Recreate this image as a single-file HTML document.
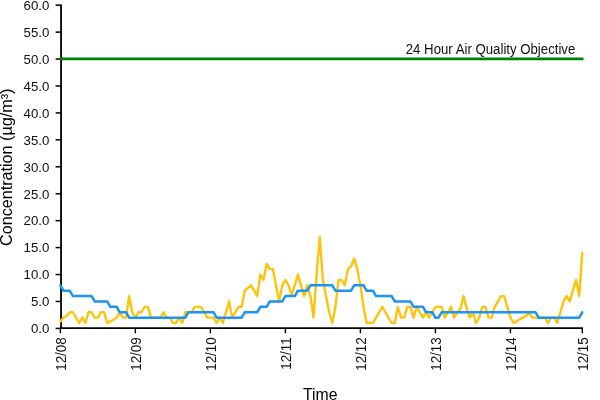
<!DOCTYPE html>
<html><head><meta charset="utf-8"><title>Chart</title>
<style>
html,body{margin:0;padding:0;background:#fff;}
svg{display:block}
text{font-family:"Liberation Sans",Arial,sans-serif;fill:#111}
.yl{font-size:13px}
.xl{font-size:13.2px}
</style></head><body>
<svg width="600" height="400" viewBox="0 0 600 400">
<rect width="600" height="400" fill="#fff"/>
<line x1="61.05" x2="61.05" y1="4.5" y2="329" stroke="#000" stroke-width="1.8"/>
<line x1="60.2" x2="583" y1="328.1" y2="328.1" stroke="#000" stroke-width="1.7"/>
<line x1="55.6" x2="61.1" y1="328.40" y2="328.40" stroke="#000" stroke-width="1.5"/><text transform="translate(49.4,333.20) scale(1.02,1.015)" text-anchor="end" class="yl">0.0</text><line x1="55.6" x2="61.1" y1="301.46" y2="301.46" stroke="#000" stroke-width="1.5"/><text transform="translate(49.4,306.26) scale(1.02,1.015)" text-anchor="end" class="yl">5.0</text><line x1="55.6" x2="61.1" y1="274.53" y2="274.53" stroke="#000" stroke-width="1.5"/><text transform="translate(49.4,279.33) scale(1.02,1.015)" text-anchor="end" class="yl">10.0</text><line x1="55.6" x2="61.1" y1="247.59" y2="247.59" stroke="#000" stroke-width="1.5"/><text transform="translate(49.4,252.39) scale(1.02,1.015)" text-anchor="end" class="yl">15.0</text><line x1="55.6" x2="61.1" y1="220.66" y2="220.66" stroke="#000" stroke-width="1.5"/><text transform="translate(49.4,225.46) scale(1.02,1.015)" text-anchor="end" class="yl">20.0</text><line x1="55.6" x2="61.1" y1="193.72" y2="193.72" stroke="#000" stroke-width="1.5"/><text transform="translate(49.4,198.53) scale(1.02,1.015)" text-anchor="end" class="yl">25.0</text><line x1="55.6" x2="61.1" y1="166.79" y2="166.79" stroke="#000" stroke-width="1.5"/><text transform="translate(49.4,171.59) scale(1.02,1.015)" text-anchor="end" class="yl">30.0</text><line x1="55.6" x2="61.1" y1="139.85" y2="139.85" stroke="#000" stroke-width="1.5"/><text transform="translate(49.4,144.66) scale(1.02,1.015)" text-anchor="end" class="yl">35.0</text><line x1="55.6" x2="61.1" y1="112.92" y2="112.92" stroke="#000" stroke-width="1.5"/><text transform="translate(49.4,117.72) scale(1.02,1.015)" text-anchor="end" class="yl">40.0</text><line x1="55.6" x2="61.1" y1="85.98" y2="85.98" stroke="#000" stroke-width="1.5"/><text transform="translate(49.4,90.78) scale(1.02,1.015)" text-anchor="end" class="yl">45.0</text><line x1="55.6" x2="61.1" y1="59.05" y2="59.05" stroke="#000" stroke-width="1.5"/><text transform="translate(49.4,63.85) scale(1.02,1.015)" text-anchor="end" class="yl">50.0</text><line x1="55.6" x2="61.1" y1="32.12" y2="32.12" stroke="#000" stroke-width="1.5"/><text transform="translate(49.4,36.92) scale(1.02,1.015)" text-anchor="end" class="yl">55.0</text><line x1="55.6" x2="61.1" y1="5.18" y2="5.18" stroke="#000" stroke-width="1.5"/><text transform="translate(49.4,9.98) scale(1.02,1.015)" text-anchor="end" class="yl">60.0</text>
<line x1="60.35" x2="60.35" y1="328" y2="333.3" stroke="#000" stroke-width="1.4"/><text transform="translate(65.65,337.3) scale(1.04,1.015) rotate(-90)" text-anchor="end" class="xl">12/08</text><line x1="135.36" x2="135.36" y1="328" y2="333.3" stroke="#000" stroke-width="1.4"/><text transform="translate(140.66,337.3) scale(1.04,1.015) rotate(-90)" text-anchor="end" class="xl">12/09</text><line x1="210.37" x2="210.37" y1="328" y2="333.3" stroke="#000" stroke-width="1.4"/><text transform="translate(215.67,337.3) scale(1.04,1.015) rotate(-90)" text-anchor="end" class="xl">12/10</text><line x1="285.39" x2="285.39" y1="328" y2="333.3" stroke="#000" stroke-width="1.4"/><text transform="translate(290.69,337.3) scale(1.04,1.015) rotate(-90)" text-anchor="end" class="xl">12/11</text><line x1="360.40" x2="360.40" y1="328" y2="333.3" stroke="#000" stroke-width="1.4"/><text transform="translate(365.70,337.3) scale(1.04,1.015) rotate(-90)" text-anchor="end" class="xl">12/12</text><line x1="435.41" x2="435.41" y1="328" y2="333.3" stroke="#000" stroke-width="1.4"/><text transform="translate(440.71,337.3) scale(1.04,1.015) rotate(-90)" text-anchor="end" class="xl">12/13</text><line x1="510.42" x2="510.42" y1="328" y2="333.3" stroke="#000" stroke-width="1.4"/><text transform="translate(515.72,337.3) scale(1.04,1.015) rotate(-90)" text-anchor="end" class="xl">12/14</text><line x1="582.31" x2="582.31" y1="328" y2="333.3" stroke="#000" stroke-width="1.4"/><text transform="translate(587.61,337.3) scale(1.04,1.015) rotate(-90)" text-anchor="end" class="xl">12/15</text>
<polyline points="60.35,321.40 63.48,317.63 66.60,316.01 69.73,312.24 72.85,312.24 75.98,317.63 79.10,323.01 82.23,317.63 85.35,323.01 88.48,312.24 91.61,312.24 94.73,317.63 97.86,317.63 100.98,312.24 104.11,312.24 107.23,323.01 110.36,321.40 113.48,319.78 116.61,317.63 119.73,312.24 122.86,317.63 125.99,317.63 129.11,296.08 132.24,312.24 135.36,317.63 138.49,312.24 141.61,312.24 144.74,306.85 147.86,306.85 150.99,317.63 154.12,317.63 157.24,317.63 160.37,317.63 163.49,312.24 166.62,317.63 169.74,317.63 172.87,323.01 175.99,323.01 179.12,317.63 182.24,323.01 185.37,312.24 188.50,312.24 191.62,312.24 194.75,306.85 197.87,306.85 201.00,306.85 204.12,312.24 207.25,317.63 210.37,317.63 213.50,317.63 216.62,323.01 219.75,317.63 222.88,323.01 226.00,312.24 229.13,301.46 232.25,317.63 235.38,312.24 238.50,306.85 241.63,306.85 244.75,290.69 247.88,288.00 251.01,285.30 254.13,290.69 257.26,296.08 260.38,274.53 263.51,279.92 266.63,263.76 269.76,269.14 272.88,269.14 276.01,285.30 279.14,301.46 282.26,285.30 285.39,279.92 288.51,285.30 291.64,295.00 294.76,285.30 297.89,274.53 301.01,285.30 304.14,296.08 307.26,285.30 310.39,296.08 313.52,317.63 316.64,274.53 319.77,236.82 322.89,279.92 326.02,296.08 329.14,312.24 332.27,323.01 335.39,306.85 338.52,279.92 341.65,279.92 344.77,285.30 347.90,269.14 351.02,266.45 354.15,258.37 357.27,269.14 360.40,285.30 363.52,306.85 366.65,323.01 369.77,323.01 372.90,323.01 376.03,317.63 379.15,312.24 382.28,306.85 385.40,312.24 388.53,317.63 391.65,323.01 394.78,323.01 397.90,306.85 401.03,317.63 404.16,317.63 407.28,306.85 410.41,306.85 413.53,317.63 416.66,306.85 419.78,312.24 422.91,317.63 426.03,312.24 429.16,317.63 432.28,312.24 435.41,306.85 438.54,306.85 441.66,306.85 444.79,317.63 447.91,312.24 451.04,306.85 454.16,317.63 457.29,312.24 460.41,309.01 463.54,296.08 466.67,308.47 469.79,317.63 472.92,312.24 476.04,323.01 479.17,317.63 482.29,306.85 485.42,306.85 488.54,317.63 491.67,317.63 494.79,306.85 497.92,301.46 501.05,296.08 504.17,296.08 507.30,306.85 510.42,317.63 513.55,323.01 516.67,321.40 519.80,319.24 522.92,317.63 526.05,316.01 529.18,312.24 532.30,317.63 535.43,317.63 538.55,317.63 541.68,317.63 544.80,317.63 547.93,323.01 551.05,317.63 554.18,317.63 557.30,323.01 560.43,312.24 563.56,301.46 566.68,296.08 569.81,301.46 572.93,290.69 576.06,279.92 579.18,296.08 582.31,252.98" fill="none" stroke="#FCC40C" stroke-width="2.4" stroke-linejoin="round" stroke-linecap="round"/>
<polyline points="60.35,285.30 63.48,290.69 66.60,290.69 69.73,290.69 72.85,296.08 75.98,296.08 79.10,296.08 82.23,296.08 85.35,296.08 88.48,296.08 91.61,296.08 94.73,301.46 97.86,301.46 100.98,301.46 104.11,301.46 107.23,301.46 110.36,306.85 113.48,306.85 116.61,306.85 119.73,312.24 122.86,312.24 125.99,312.24 129.11,317.63 132.24,317.63 135.36,317.63 138.49,317.63 141.61,317.63 144.74,317.63 147.86,317.63 150.99,317.63 154.12,317.63 157.24,317.63 160.37,317.63 163.49,317.63 166.62,317.63 169.74,317.63 172.87,317.63 175.99,317.63 179.12,317.63 182.24,317.63 185.37,317.63 188.50,312.24 191.62,312.24 194.75,312.24 197.87,312.24 201.00,312.24 204.12,312.24 207.25,312.24 210.37,312.24 213.50,312.24 216.62,317.63 219.75,317.63 222.88,317.63 226.00,317.63 229.13,317.63 232.25,317.63 235.38,317.63 238.50,317.63 241.63,317.63 244.75,312.24 247.88,312.24 251.01,312.24 254.13,312.24 257.26,312.24 260.38,306.85 263.51,306.85 266.63,306.85 269.76,301.46 272.88,301.46 276.01,301.46 279.14,301.46 282.26,301.46 285.39,296.08 288.51,296.08 291.64,296.08 294.76,296.08 297.89,290.69 301.01,290.69 304.14,290.69 307.26,290.69 310.39,285.30 313.52,285.30 316.64,285.30 319.77,285.30 322.89,285.30 326.02,285.30 329.14,285.30 332.27,285.30 335.39,290.69 338.52,290.69 341.65,290.69 344.77,290.69 347.90,290.69 351.02,290.69 354.15,285.30 357.27,285.30 360.40,285.30 363.52,285.30 366.65,290.69 369.77,290.69 372.90,290.69 376.03,296.08 379.15,296.08 382.28,296.08 385.40,296.08 388.53,296.08 391.65,296.08 394.78,301.46 397.90,301.46 401.03,301.46 404.16,301.46 407.28,301.46 410.41,301.46 413.53,306.85 416.66,306.85 419.78,306.85 422.91,306.85 426.03,312.24 429.16,312.24 432.28,312.24 435.41,317.63 438.54,317.63 441.66,312.24 444.79,312.24 447.91,312.24 451.04,312.24 454.16,312.24 457.29,312.24 460.41,312.24 463.54,312.24 466.67,312.24 469.79,312.24 472.92,312.24 476.04,312.24 479.17,312.24 482.29,312.24 485.42,312.24 488.54,312.24 491.67,312.24 494.79,312.24 497.92,312.24 501.05,312.24 504.17,312.24 507.30,312.24 510.42,312.24 513.55,312.24 516.67,312.24 519.80,312.24 522.92,312.24 526.05,312.24 529.18,312.24 532.30,312.24 535.43,312.24 538.55,317.63 541.68,317.63 544.80,317.63 547.93,317.63 551.05,317.63 554.18,317.63 557.30,317.63 560.43,317.63 563.56,317.63 566.68,317.63 569.81,317.63 572.93,317.63 576.06,317.63 579.18,317.63 582.31,312.24" fill="none" stroke="#1C94F4" stroke-width="2.5" stroke-linejoin="round" stroke-linecap="round"/>
<line x1="61.1" x2="582.3" y1="58.9" y2="58.9" stroke="#008000" stroke-width="2.8" stroke-linecap="round"/>
<text transform="translate(575.3,53.8) scale(0.975,1.025)" text-anchor="end" style="font-size:13.55px">24 Hour Air Quality Objective</text>
<text transform="translate(11.9,167.3) scale(0.985,1.01) rotate(-90)" text-anchor="middle" style="font-size:16px;fill:#000">Concentration (µg/m³)</text>
<text x="320.2" y="399.9" text-anchor="middle" style="font-size:15.8px;fill:#000">Time</text>
</svg>
</body></html>
